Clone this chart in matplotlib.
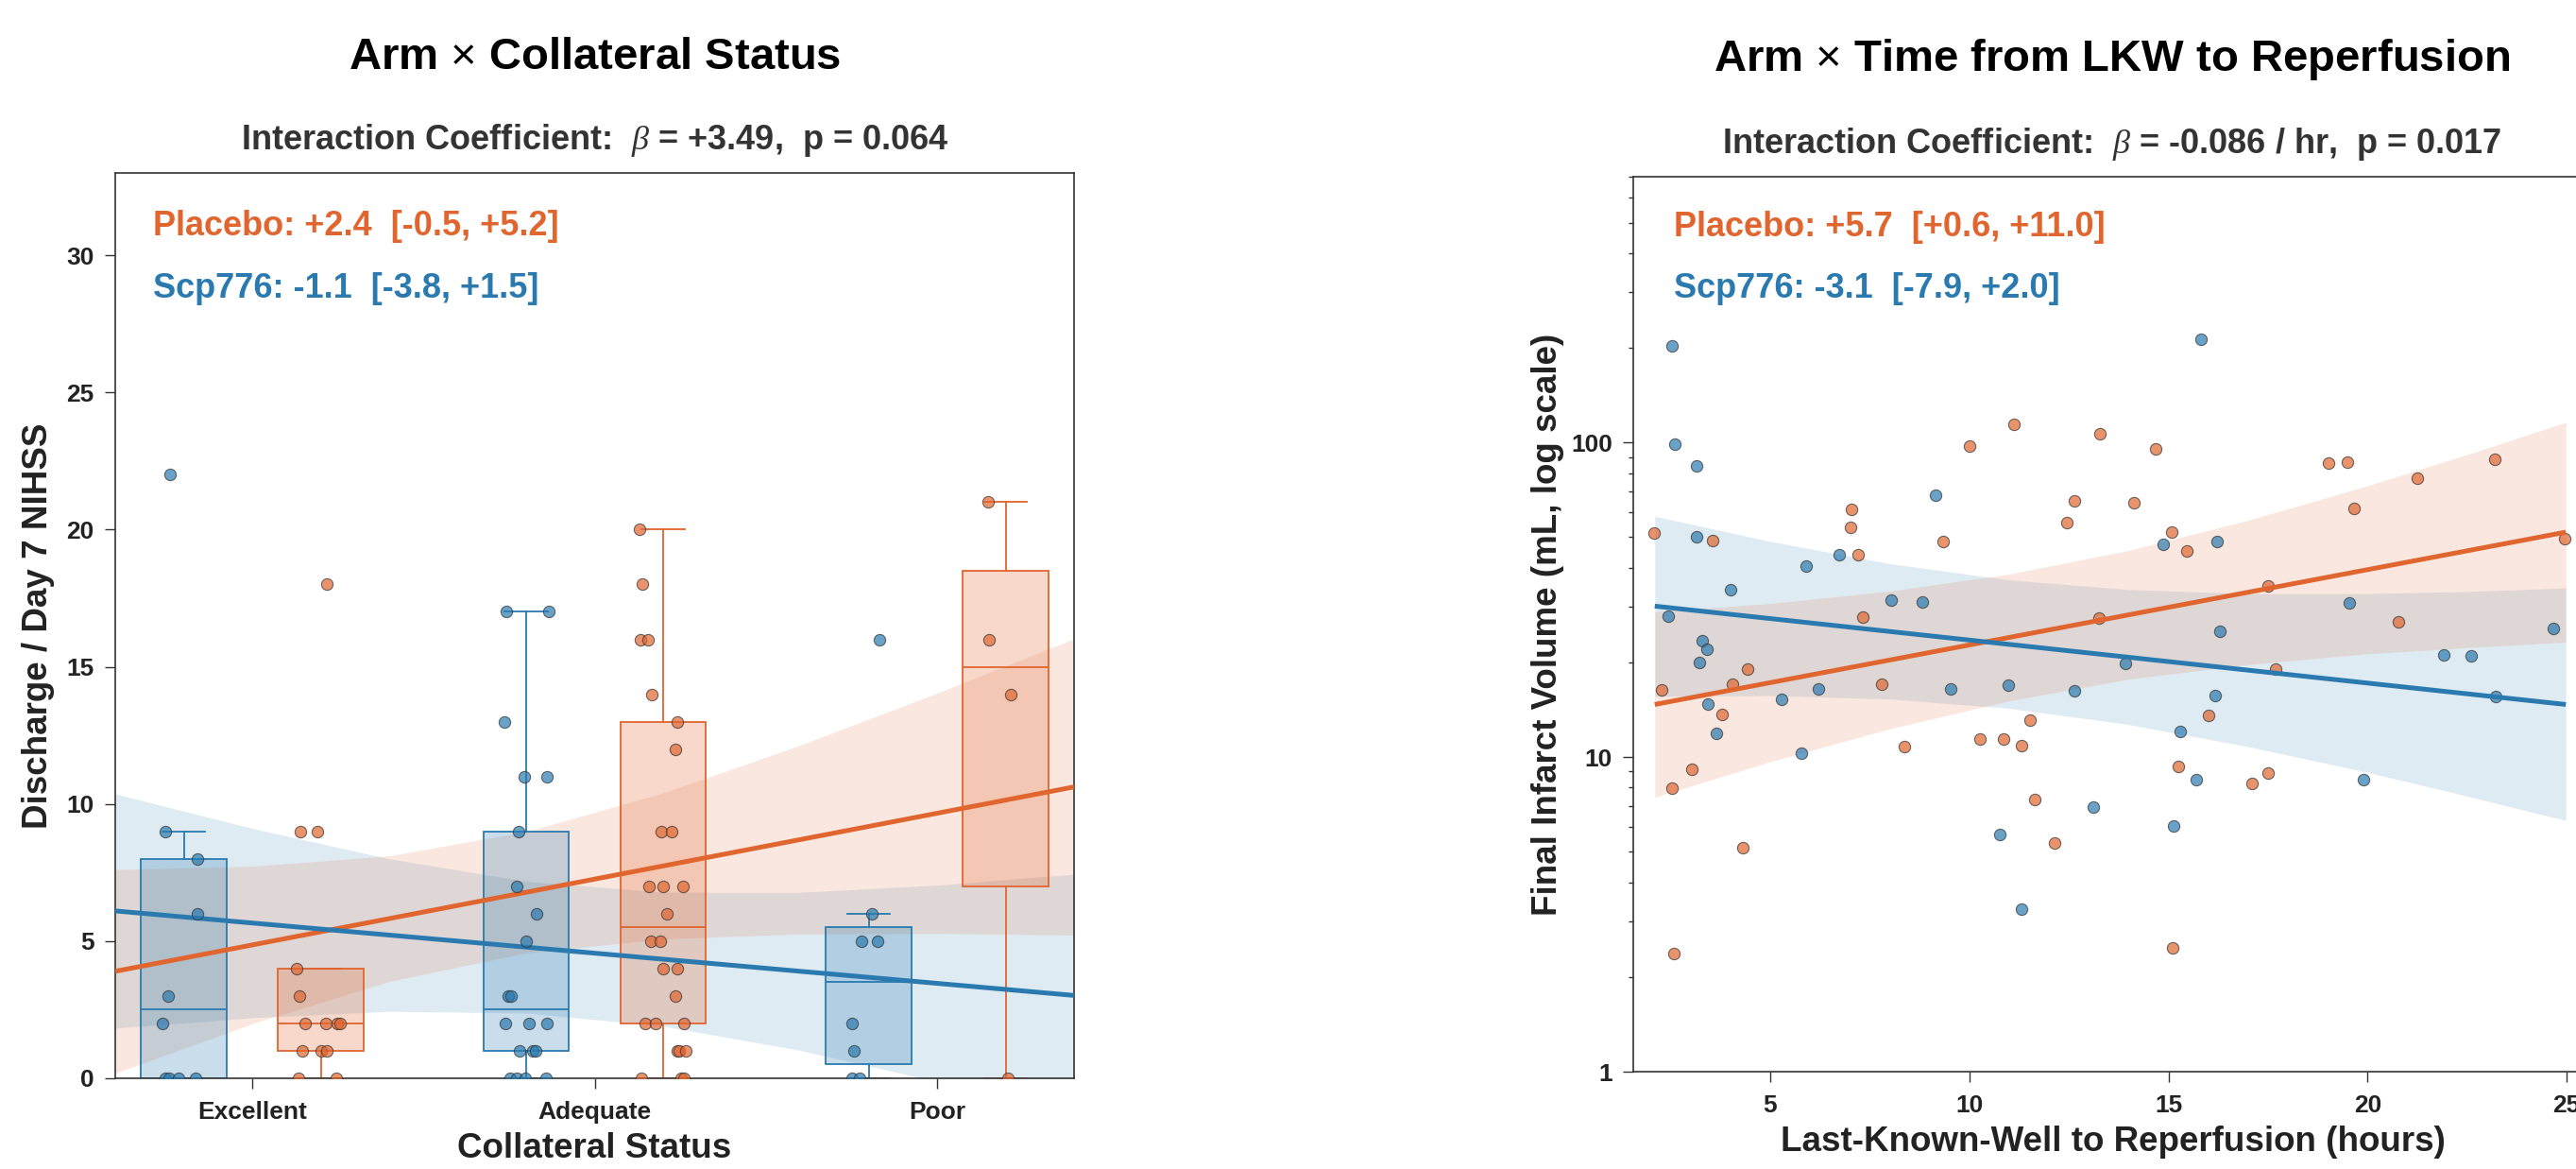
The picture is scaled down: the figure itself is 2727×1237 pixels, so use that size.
import numpy as np
import matplotlib
matplotlib.use('Agg')
import matplotlib.pyplot as plt
from matplotlib.colors import to_rgba
from matplotlib.ticker import NullFormatter, LogLocator

plt.rcParams['font.family'] = ['Liberation Sans', 'DejaVu Sans']
plt.rcParams['font.weight'] = 'bold'
plt.rcParams['axes.labelweight'] = 'bold'
plt.rcParams['mathtext.fontset'] = 'custom'
plt.rcParams['mathtext.rm'] = 'Liberation Sans:normal'
plt.rcParams['mathtext.it'] = 'Liberation Serif:italic:normal'

ORANGE = '#E0652F'
BLUE = '#2A7AB0'
TXT = '#222222'

# ---------------- left panel data: NIHSS by collateral status ----------------
categories = ['Excellent', 'Adequate', 'Poor']

scp_exc = [22, 9, 8, 6, 3, 2, 0, 0, 0, 0]
scp_exc_jit = [-0.039, -0.053, 0.039, 0.040, -0.045, -0.061, -0.053, -0.043, -0.016, 0.034]
scp_adq = [17, 17, 13, 11, 11, 9, 7, 6, 5, 3, 3, 2, 2, 2, 1, 1, 1, 0, 0, 0, 0]
scp_adq_jit = [-0.059, 0.066, -0.063, -0.005, 0.060, -0.021, -0.027, 0.031, -0.001, -0.052, -0.043,
               -0.062, 0.007, 0.062, -0.019, 0.020, 0.028, -0.046, -0.027, -0.003, 0.058]
scp_poor = [16, 6, 5, 5, 2, 1, 0, 0]
scp_poor_jit = [0.031, 0.010, -0.021, 0.027, -0.048, -0.044, -0.047, -0.027]

pla_exc = [18, 9, 9, 4, 3, 2, 2, 2, 2, 1, 1, 1, 0, 0]
pla_exc_jit = [0.019, -0.060, -0.009, -0.071, -0.062, -0.045, 0.015, 0.047, 0.056, -0.054, 0.001,
               0.018, -0.064, 0.046]
pla_adq = [20, 18, 16, 16, 14, 13, 12, 9, 9, 7, 7, 7, 6, 5, 5, 4, 4, 3, 2, 2, 2, 1, 1, 1, 0, 0, 0]
pla_adq_jit = [-0.068, -0.061, -0.067, -0.044, -0.033, 0.040, 0.037, -0.005, 0.026, -0.041, -0.001,
               0.059, 0.011, -0.037, -0.008, 0.001, 0.040, 0.037, -0.052, -0.023, 0.062, 0.041,
               0.047, 0.065, -0.063, 0.052, 0.061]
pla_poor = [21, 16, 14, 0]
pla_poor_jit = [-0.052, -0.048, 0.016, 0.008]

# box summaries (q1, median, q3, whisker low, whisker high) per category
scp_q1 = [0, 1, 0.5]
scp_med = [2.5, 2.5, 3.5]
scp_q3 = [8, 9, 5.5]
scp_wlo = [0, 0, 0]
scp_whi = [9, 17, 6]
pla_q1 = [1, 2, 7]
pla_med = [2, 5.5, 15]
pla_q3 = [4, 13, 18.5]
pla_wlo = [0, 0, 0]
pla_whi = [4, 20, 21]

# fitted lines and 95% bands (category code on x)
fit_x = [-0.4, 2.4]
pla_fit = [3.90, 10.62]
scp_fit = [6.10, 3.02]
band_x = [-0.4, 0.0, 0.4, 0.8, 1.2, 1.6, 2.0, 2.4]
pla_lo = [0.19, 1.99, 3.53, 4.57, 5.08, 5.26, 5.28, 5.22]
pla_hi = [7.61, 7.73, 8.11, 8.99, 10.40, 12.14, 14.04, 16.02]
scp_lo = [1.83, 2.21, 2.44, 2.38, 1.90, 1.02, -0.12, -1.40]
scp_hi = [10.37, 9.11, 8.00, 7.18, 6.78, 6.78, 7.04, 7.44]

# ---------------- right panel data: infarct volume vs LKW time ----------------
scp_hours = [2.54, 2.61, 3.16, 9.15, 3.14, 6.73, 5.89, 4.01, 8.03, 8.81, 2.44, 3.29, 3.40, 3.22,
             6.22, 9.54, 10.98, 12.65, 5.28, 3.44, 3.64, 5.78, 13.12, 10.77, 11.30, 15.81, 14.86,
             16.21, 19.55, 16.29, 24.67, 13.91, 21.92, 22.60, 16.17, 23.21, 15.29, 15.69, 19.90, 15.13]
scp_vol = [203, 99, 84, 68, 50, 44, 40.6, 34, 31.6, 31.1, 28, 23.5, 22.1, 20,
           16.5, 16.5, 16.9, 16.2, 15.3, 14.7, 11.9, 10.3, 6.93, 5.69, 3.28, 213, 47.6,
           48.4, 30.9, 25.2, 25.6, 19.9, 21.2, 21.0, 15.7, 15.6, 12.1, 8.5, 8.47, 6.05]

pla_hours = [11.12, 10.01, 13.27, 12.63, 7.03, 12.46, 7.01, 2.09, 3.55, 9.34, 7.20, 7.32, 4.43, 7.80,
             4.06, 2.28, 3.80, 11.53, 3.03, 2.54, 8.38, 10.27, 10.86, 11.31, 11.64, 2.58, 4.31, 12.13,
             15.24, 17.10, 17.50, 15.10, 14.68, 14.14, 19.03, 19.50, 23.19, 21.24, 19.67, 15.08,
             15.47, 24.95, 17.51, 13.25, 20.77, 17.70, 16.01]
pla_vol = [114, 97.5, 107, 65.3, 61.2, 55.6, 53.9, 51.5, 48.9, 48.4, 44.0, 27.8, 19.1, 17.0,
           17.0, 16.4, 13.7, 13.1, 9.15, 7.98, 10.8, 11.4, 11.4, 10.9, 7.33, 2.37, 5.16, 5.33,
           9.36, 8.24, 8.89, 2.47, 95.5, 64.4, 85.9, 86.8, 88.3, 76.9, 61.6, 52.1,
           45.2, 49.4, 34.9, 27.7, 26.9, 19.1, 13.6]

fit_hours = [2.10, 24.98]
pla_fit_vol = [14.7, 51.9]
scp_fit_vol = [30.2, 14.7]
band_hours = [2.10, 5, 8, 11, 14, 17, 20, 22.5, 24.98]
pla_vlo = [7.46, 9.67, 12.3, 15.1, 17.7, 19.7, 21.3, 22.3, 23.2]
pla_vhi = [29.0, 30.8, 33.7, 38.2, 45.4, 56.6, 72.9, 91.6, 116]
scp_vlo = [15.6, 15.7, 15.3, 14.3, 12.7, 10.8, 8.95, 7.52, 6.29]
scp_vhi = [58.3, 48.5, 41.2, 36.6, 34.1, 33.1, 33.1, 33.6, 34.5]

W, H = 2727, 1237
fig = plt.figure(figsize=(W / 100, H / 100), dpi=100)


def style_axes(ax, ylen=8):
    for sp in ax.spines.values():
        sp.set_color('#333333')
        sp.set_linewidth(1.2)
    ax.tick_params(axis='both', which='major', labelsize=19, colors='#333333',
                   labelcolor=TXT, width=1.0)
    ax.tick_params(axis='x', length=8, pad=9)
    ax.tick_params(axis='y', length=ylen, pad=8)
    for lab in ax.get_xticklabels() + ax.get_yticklabels():
        lab.set_fontweight('bold')


def box_stats(q1, med, q3, wlo, whi):
    return [dict(q1=a, med=b, q3=c, whislo=d, whishi=e, fliers=[])
            for a, b, c, d, e in zip(q1, med, q3, wlo, whi)]


# ---------------- left panel ----------------
ax1 = fig.add_axes([122 / W, (H - 1141) / H, 1015 / W, 958 / H])
ax1.fill_between(band_x, scp_lo, scp_hi, color=BLUE, alpha=0.15, lw=0, zorder=1)
ax1.fill_between(band_x, pla_lo, pla_hi, color=ORANGE, alpha=0.15, lw=0, zorder=1)

cat_pos = np.arange(len(categories))
for stats, col, off in [(box_stats(scp_q1, scp_med, scp_q3, scp_wlo, scp_whi), BLUE, -0.2),
                        (box_stats(pla_q1, pla_med, pla_q3, pla_wlo, pla_whi), ORANGE, 0.2)]:
    ax1.bxp(stats, positions=cat_pos + off, widths=0.25, patch_artist=True, showfliers=False,
            manage_ticks=False, zorder=2,
            boxprops=dict(facecolor=to_rgba(col, 0.25), edgecolor=col, linewidth=1.3),
            whiskerprops=dict(color=col, linewidth=1.3),
            capprops=dict(color=col, linewidth=1.3),
            medianprops=dict(color=col, linewidth=1.3))

ax1.plot(fit_x, pla_fit, color=ORANGE, lw=3.6, zorder=3, solid_capstyle='butt')
ax1.plot(fit_x, scp_fit, color=BLUE, lw=3.6, zorder=3, solid_capstyle='butt')

scp_groups = [(scp_exc, scp_exc_jit), (scp_adq, scp_adq_jit), (scp_poor, scp_poor_jit)]
pla_groups = [(pla_exc, pla_exc_jit), (pla_adq, pla_adq_jit), (pla_poor, pla_poor_jit)]
for i, ((sv, sj), (pv, pj)) in enumerate(zip(scp_groups, pla_groups)):
    ax1.scatter(i - 0.2 + np.array(sj), sv, s=78, color=BLUE, alpha=0.7,
                edgecolors='#333333', linewidths=0.8, zorder=4)
    ax1.scatter(i + 0.2 + np.array(pj), pv, s=78, color=ORANGE, alpha=0.7,
                edgecolors='#333333', linewidths=0.8, zorder=4)

ax1.set_xlim(-0.4, 2.4)
ax1.set_ylim(0, 33)
ax1.set_xticks(cat_pos)
ax1.set_xticklabels(categories)
ax1.set_yticks([0, 5, 10, 15, 20, 25, 30])
style_axes(ax1)
ax1.set_xlabel('Collateral Status', fontsize=26.5, color=TXT, labelpad=7)
ax1.set_ylabel('Discharge / Day 7 NIHSS', fontsize=26.5, color=TXT, labelpad=9)
ax1.text(0.039, 0.931, 'Placebo: +2.4  [-0.5, +5.2]', transform=ax1.transAxes,
         color=ORANGE, fontsize=26, fontweight='bold', va='baseline')
ax1.text(0.039, 0.862, 'Scp776: -1.1  [-3.8, +1.5]', transform=ax1.transAxes,
         color=BLUE, fontsize=26, fontweight='bold', va='baseline')

fig.text(629.5 / W, 1 - 73 / H, r'Arm $\times$ Collateral Status', ha='center', va='baseline',
         fontsize=34, fontweight='bold', color='black')
fig.text(629.5 / W, 1 - 158 / H, r'Interaction Coefficient:  $\beta$ = +3.49,  p = 0.064',
         ha='center', va='baseline', fontsize=26, fontweight='bold', color='#333333')

# ---------------- right panel ----------------
ax2 = fig.add_axes([1729 / W, (H - 1134) / H, 1015 / W, 947 / H])
ax2.set_yscale('log')
ax2.fill_between(band_hours, scp_vlo, scp_vhi, color=BLUE, alpha=0.15, lw=0, zorder=1)
ax2.fill_between(band_hours, pla_vlo, pla_vhi, color=ORANGE, alpha=0.15, lw=0, zorder=1)
ax2.scatter(pla_hours, pla_vol, s=78, color=ORANGE, alpha=0.7,
            edgecolors='#333333', linewidths=0.8, zorder=2)
ax2.scatter(scp_hours, scp_vol, s=78, color=BLUE, alpha=0.7,
            edgecolors='#333333', linewidths=0.8, zorder=2)
ax2.plot(fit_hours, pla_fit_vol, color=ORANGE, lw=3.6, zorder=3, solid_capstyle='butt')
ax2.plot(fit_hours, scp_fit_vol, color=BLUE, lw=3.6, zorder=3, solid_capstyle='butt')

ax2.set_xlim(1.56, 25.64)
ax2.set_ylim(1, 700)
ax2.set_xticks([5, 10, 15, 20, 25])
ax2.set_yticks([1, 10, 100])
ax2.set_yticklabels(['1', '10', '100'])
ax2.yaxis.set_minor_locator(LogLocator(base=10, subs=np.arange(2, 10)))
ax2.yaxis.set_minor_formatter(NullFormatter())
style_axes(ax2, ylen=8)
ax2.tick_params(axis='y', which='minor', length=3.6, width=1.0, colors='#333333')
ax2.set_xlabel('Last-Known-Well to Reperfusion (hours)', fontsize=26.5, color=TXT, labelpad=7)
ax2.set_ylabel('Final Infarct Volume (mL, log scale)', fontsize=26.5, color=TXT, labelpad=5)
ax2.text(0.042, 0.933, 'Placebo: +5.7  [+0.6, +11.0]', transform=ax2.transAxes,
         color=ORANGE, fontsize=26, fontweight='bold', va='baseline')
ax2.text(0.042, 0.865, 'Scp776: -3.1  [-7.9, +2.0]', transform=ax2.transAxes,
         color=BLUE, fontsize=26, fontweight='bold', va='baseline')

fig.text(2236 / W, 1 - 75 / H, r'Arm $\times$ Time from LKW to Reperfusion', ha='center',
         va='baseline', fontsize=34, fontweight='bold', color='black')
fig.text(2236 / W, 1 - 162 / H, r'Interaction Coefficient:  $\beta$ = -0.086 / hr,  p = 0.017',
         ha='center', va='baseline', fontsize=26, fontweight='bold', color='#333333')

fig.savefig('out.png', dpi=100)
